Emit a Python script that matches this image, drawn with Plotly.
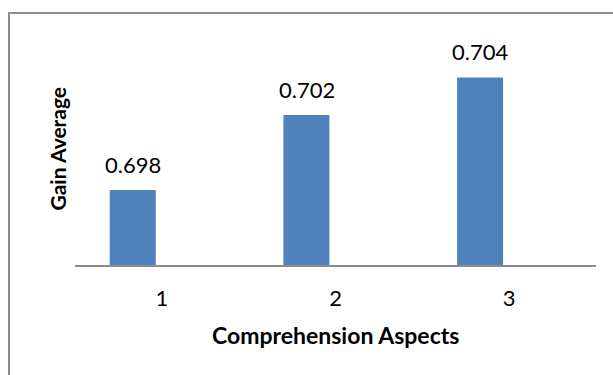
import plotly.graph_objects as go

categories = [1, 2, 3]
values = [0.698, 0.702, 0.704]
value_labels = ["0.698", "0.702", "0.704"]
tick_labels = ["1", "2", "3"]
x_title = "Comprehension Aspects"
y_title = "Gain Average"

BAR_COLOR = "#4F81BD"
FONT = "Lato, 'Open Sans', sans-serif"

fig = go.Figure()
fig.add_trace(go.Bar(
    x=categories, y=values,
    width=0.265, offset=-0.3,
    marker=dict(color=BAR_COLOR, line=dict(width=0)),
    hoverinfo="skip",
))

annotations = []
for c, v, t in zip(categories, values, value_labels):
    annotations.append(dict(
        x=c, y=v, xref="x", yref="y", text=t, showarrow=False,
        xshift=-29, yshift=26, yanchor="middle", xanchor="center",
        font=dict(family=FONT, size=22, color="#000000"),
    ))
annotations.append(dict(
    x=0.5, y=0, xref="paper", yref="paper", text="<b>" + x_title + "</b>",
    showarrow=False, yshift=-70, yanchor="middle", xanchor="center",
    font=dict(family=FONT, size=23, color="#000000"),
))
annotations.append(dict(
    x=0, y=0.5, xref="paper", yref="paper", text="<b>" + y_title + "</b>",
    showarrow=False, xshift=-18, yshift=4, textangle=-90,
    xanchor="center", yanchor="middle",
    font=dict(family=FONT, size=21, color="#000000"),
))

fig.update_layout(
    width=613, height=375,
    margin=dict(l=75, r=17, t=40, b=110),
    paper_bgcolor="white", plot_bgcolor="white",
    showlegend=False,
    annotations=annotations,
    xaxis=dict(
        range=[0.5, 3.5], tickmode="array", tickvals=categories, ticktext=tick_labels,
        showgrid=False, zeroline=False, showline=True, linecolor="#8C8C8C", linewidth=2,
        ticks="", ticklabelstandoff=13,
        tickfont=dict(family=FONT, size=22, color="#000000"),
        fixedrange=True,
    ),
    yaxis=dict(
        range=[0.694, 0.706], showticklabels=False, showgrid=False, zeroline=False,
        showline=False, ticks="", fixedrange=True,
    ),
    shapes=[dict(
        type="rect", xref="paper", yref="paper",
        x0=(9 - 75) / 521, x1=(640 - 75) / 521,
        y0=(265 - 400) / 225, y1=1 + (27 / 225),
        line=dict(color="#8C8C8C", width=2), fillcolor="rgba(0,0,0,0)", layer="below",
    )],
)

fig.write_html(
    "out.html",
    config={"displayModeBar": False},
    post_script="document.body.style.margin='0';document.body.style.overflow='hidden';",
)
